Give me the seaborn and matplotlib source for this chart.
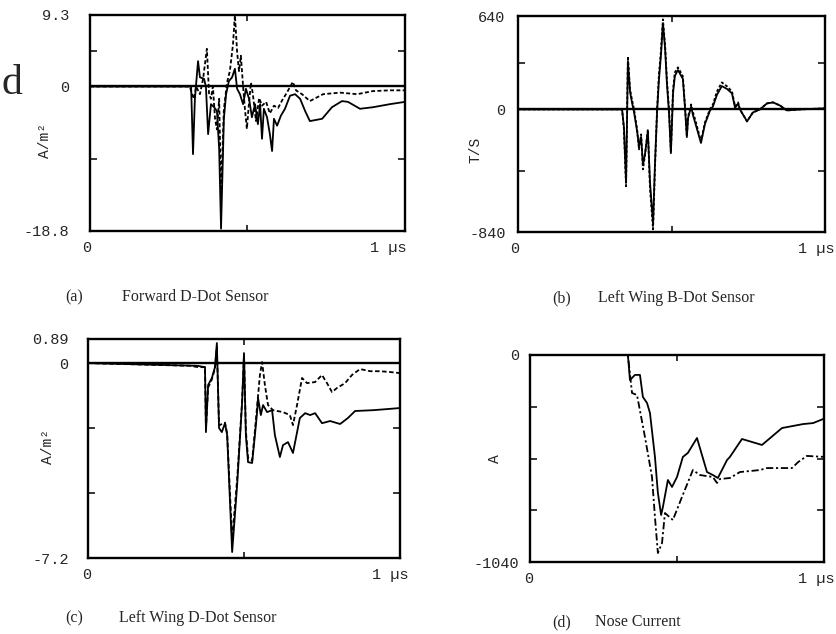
import matplotlib
matplotlib.use("Agg")
import matplotlib.pyplot as plt
import pandas as pd
import seaborn as sns

sns.set_style("white")
plt.rcParams['font.family'] = ['Liberation Mono', 'DejaVu Sans Mono']

# ---------------- data (time in microseconds) ----------------
# (a) Forward D-Dot Sensor, A/m^2
A_T_SOLID = [0, 0.321, 0.327, 0.333, 0.343, 0.349, 0.362, 0.368, 0.375, 0.384,
             0.394, 0.403, 0.410, 0.416, 0.425, 0.432, 0.441, 0.451, 0.460, 0.467,
             0.476, 0.486, 0.495, 0.505, 0.514, 0.524, 0.533, 0.540, 0.546, 0.552,
             0.562, 0.571, 0.578, 0.584, 0.594, 0.606, 0.619, 0.635, 0.651, 0.667,
             0.683, 0.698, 0.737, 0.768, 0.800, 0.819, 0.857, 0.898, 0.952, 1.0]
A_V_SOLID = [0, 0, -8.8, -1.6, 3.3, 1.2, 1.0, 0, -6.2, -2.3,
             -2.7, -3.2, -8.1, -18.5, -4.2, -1.0, 0.7, 1.2, 2.3, -0.3,
             -1.0, -2.3, -0.3, -1.6, -4.0, -2.3, -4.9, -2.3, -6.8, -2.9,
             -4.0, -6.2, -8.4, -4.2, -5.1, -3.8, -2.9, -1.2, -1.0, -1.6,
             -3.2, -4.5, -4.2, -2.7, -1.9, -2.0, -2.9, -2.7, -2.3, -2.0]
A_T_DOT = [0, 0.317, 0.324, 0.330, 0.337, 0.349, 0.359, 0.371, 0.378, 0.384,
           0.390, 0.397, 0.403, 0.410, 0.416, 0.425, 0.435, 0.444, 0.454, 0.460,
           0.467, 0.473, 0.479, 0.486, 0.492, 0.498, 0.505, 0.511, 0.517, 0.527,
           0.537, 0.546, 0.559, 0.571, 0.584, 0.597, 0.610, 0.625, 0.644, 0.654,
           0.673, 0.698, 0.740, 0.794, 0.848, 0.898, 0.952, 1.0]
A_V_DOT = [0, 0, -1.0, -1.6, 0, -1.0, 1.0, 4.9, -1.0, -1.6,
           0, -4.2, -5.6, -1.6, -14.0, -3.0, 0.5, 2.0, 5.5, 9.3,
           4.5, 2.0, 4.0, 0.0, -3.0, -5.5, -2.0, 0.5, -1.0, -4.5,
           -1.5, -2.5, -2.0, -3.5, -2.5, -2.8, -1.8, -0.8, 0.6, -0.5,
           -1.0, -1.9, -1.0, -0.8, -1.0, -0.6, -0.5, -0.5]

# (b) Left Wing B-Dot Sensor, T/S
B_T = [0, 0.339, 0.345, 0.352, 0.358, 0.365, 0.371, 0.378, 0.388, 0.394,
       0.401, 0.407, 0.414, 0.423, 0.430, 0.440, 0.446, 0.453, 0.459, 0.466,
       0.472, 0.479, 0.485, 0.492, 0.498, 0.505, 0.511, 0.521, 0.534, 0.537,
       0.544, 0.550, 0.554, 0.564, 0.570, 0.577, 0.596, 0.609, 0.625, 0.635,
       0.648, 0.664, 0.681, 0.697, 0.707, 0.717, 0.723, 0.746, 0.765, 0.788,
       0.811, 0.831, 0.853, 0.876, 0.919, 1.0]
B_V_DOT = [0, 0, -137, -527, 363, 137, 69, 0, -137, -274,
           -171, -411, -308, -137, -548, -822, -411, 0, 240, 411,
           617, 445, 206, 0, -295, 137, 254, 288, 240, 226,
           21, -185, -48, 34, -21, -69, -219, -89, 0, 34,
           123, 185, 158, 123, 21, 48, 0, -82, -21, 0,
           41, 48, 27, -7, 0, 7]
B_V_SOLID = [0, 0, -120, -500, 330, 120, 50, -20, -150, -250,
             -190, -380, -300, -150, -500, -780, -380, -20, 200, 380,
             590, 420, 180, -30, -300, 110, 230, 270, 220, 210,
             10, -190, -60, 20, -40, -90, -230, -100, -10, 20,
             100, 160, 140, 110, 10, 40, 0, -82, -21, 0,
             41, 48, 27, -7, 0, 7]

# (c) Left Wing D-Dot Sensor, A/m^2
C_T_SOLID = [0, 0.350, 0.375, 0.378, 0.385, 0.397, 0.407, 0.413, 0.420, 0.429,
             0.439, 0.446, 0.462, 0.478, 0.494, 0.500, 0.506, 0.513, 0.526, 0.535,
             0.542, 0.545, 0.554, 0.561, 0.574, 0.590, 0.599, 0.615, 0.625, 0.641,
             0.657, 0.679, 0.696, 0.712, 0.728, 0.750, 0.776, 0.808, 0.833, 0.856,
             0.913, 0.958, 1.0]
C_V_SOLID = [0, -0.1, -0.15, -2.55, -0.81, -0.55, -0.15, 0.74, -2.40, -2.55,
             -2.22, -2.66, -6.98, -4.51, -1.44, 0.37, -2.66, -3.66, -3.69, -2.66,
             -1.81, -1.29, -1.92, -1.55, -1.81, -1.74, -2.66, -3.47, -3.03, -2.92,
             -3.32, -2.03, -1.85, -1.92, -1.85, -2.22, -2.14, -2.25, -2.03, -1.77,
             -1.74, -1.70, -1.66]
C_T_DOT = [0, 0.327, 0.353, 0.375, 0.378, 0.385, 0.397, 0.407, 0.413, 0.420,
           0.439, 0.446, 0.462, 0.478, 0.494, 0.500, 0.506, 0.513, 0.526, 0.535,
           0.542, 0.551, 0.558, 0.567, 0.577, 0.593, 0.625, 0.647, 0.657, 0.670,
           0.686, 0.702, 0.728, 0.750, 0.766, 0.782, 0.798, 0.824, 0.846, 0.872,
           0.904, 0.936, 0.968, 1.0]
C_V_DOT = [0, -0.1, -0.15, -0.15, -2.4, -0.9, -0.6, -0.2, 0.6, -2.3,
           -2.2, -2.6, -6.5, -4.3, -1.4, 0.3, -2.5, -3.5, -3.6, -2.5,
           -1.6, -0.44, 0.04, -0.81, -1.55, -1.74, -1.81, -1.92, -2.29, -1.55,
           -0.55, -0.74, -0.70, -0.44, -0.74, -1.07, -0.92, -0.74, -0.44, -0.22,
           -0.30, -0.30, -0.33, -0.37]

# (d) Nose Current, A
D_T_SOLID = [0, 0.333, 0.340, 0.357, 0.374, 0.384, 0.398, 0.408, 0.425, 0.435,
             0.446, 0.452, 0.469, 0.483, 0.500, 0.520, 0.537, 0.568, 0.602, 0.622,
             0.639, 0.670, 0.680, 0.721, 0.789, 0.857, 0.929, 0.963, 1.0]
D_V_SOLID = [0, 0, -126, -100, -100, -211, -241, -291, -512, -693,
             -804, -764, -628, -663, -613, -512, -492, -417, -588, -603,
             -618, -528, -512, -422, -452, -367, -347, -342, -320]
D_T_DOT = [0, 0.333, 0.347, 0.364, 0.391, 0.415, 0.425, 0.435, 0.449, 0.459,
           0.486, 0.517, 0.554, 0.578, 0.622, 0.636, 0.646, 0.680, 0.714, 0.782,
           0.806, 0.891, 0.912, 0.942, 1.0]
D_V_DOT = [0, 0, -191, -201, -412, -613, -814, -995, -945, -794,
           -829, -713, -578, -603, -613, -643, -623, -618, -588, -578,
           -568, -568, -538, -507, -512]

Y_TOP = [9.3, 640, 0.89, 0]
Y_BOTTOM = [-18.8, -840, -7.2, -1040]
Y_TOP_LABELS = ["9.3", "640", "0.89", "0"]
Y_BOTTOM_LABELS = ["-18.8", "-840", "-7.2", "-1040"]
Y_MINOR = [[4.65, -9.4], [320, -420], [-2.4, -4.8], [-260, -520, -780]]
Y_UNITS = ["A/m\u00b2", "T/S", "A/m\u00b2", "A"]
LETTERS = ["(a)", "(b)", "(c)", "(d)"]
CAPTIONS = ["Forward D-Dot Sensor", "Left Wing B-Dot Sensor",
            "Left Wing D-Dot Sensor", "Nose Current"]

series = [
    (A_T_SOLID, A_V_SOLID, A_T_DOT, A_V_DOT),
    (B_T, B_V_SOLID, B_T, B_V_DOT),
    (C_T_SOLID, C_V_SOLID, C_T_DOT, C_V_DOT),
    (D_T_SOLID, D_V_SOLID, D_T_DOT, D_V_DOT),
]

# ---------------- layout (figure fractions) ----------------
W, H = 837, 634
boxes_px = [(90, 15, 405, 231), (518, 16, 825, 232), (88, 339, 400, 558), (530, 355, 824, 562)]
ylabel_pos = [(-0.12, 0.42), (-0.117, 0.38), (-0.106, 0.51), (-0.095, 0.50)]
ytick_pad = [15, 9, 14, 8]
unit_right = [1.006, 1.03, 1.026, 1.037]
zero_x = [-0.01, -0.01, -0.005, -0.006]
caption_px = [(74, 122, 297), (562, 598, 298), (74, 119, 618), (562, 595, 622)]
dashes = [(0, (2.2, 1.3)), (0, (1.6, 1.1)), (0, (2.5, 1.4)), (0, (4, 1.5, 1.2, 1.5))]

fig = plt.figure(figsize=(W / 100, H / 100), dpi=100)
fig.patch.set_facecolor("white")

for i in range(4):
    l, t, r, b = boxes_px[i]
    ax = fig.add_axes([l / W, 1 - b / H, (r - l) / W, (b - t) / H])
    ts, vs, td, vd = series[i]
    df_s = pd.DataFrame({"t": ts, "v": vs})
    df_d = pd.DataFrame({"t": td, "v": vd})
    sns.lineplot(data=df_d, x="t", y="v", ax=ax, color="black", lw=1.3,
                 linestyle=dashes[i], estimator=None, sort=False, zorder=3)
    sns.lineplot(data=df_s, x="t", y="v", ax=ax, color="black", lw=1.3,
                 estimator=None, sort=False, zorder=4)
    if Y_TOP[i] > 0:
        ax.axhline(0, color="black", lw=1.7, zorder=5)
    ax.set_xlim(0, 1)
    ax.set_ylim(Y_BOTTOM[i], Y_TOP[i])
    for s in ax.spines.values():
        s.set_visible(True)
        s.set_color("black")
        s.set_linewidth(1.7)

    # y labels (top, zero, bottom) and inner minor ticks
    if Y_TOP[i] > 0:
        ax.set_yticks([Y_TOP[i], 0, Y_BOTTOM[i]])
        ax.set_yticklabels([Y_TOP_LABELS[i], "0", Y_BOTTOM_LABELS[i]])
    else:
        ax.set_yticks([Y_TOP[i], Y_BOTTOM[i]])
        ax.set_yticklabels([Y_TOP_LABELS[i], Y_BOTTOM_LABELS[i]])
    ax.set_yticks(Y_MINOR[i], minor=True)
    ax.set_xticks([])
    ax.set_xticks([0.5], minor=True)
    ax.tick_params(axis="y", which="major", length=0, pad=ytick_pad[i], labelsize=11)
    ax.tick_params(axis="y", which="minor", direction="in", length=5, width=1.3,
                   left=True, right=True)
    ax.tick_params(axis="x", which="minor", direction="in", length=4, width=1.3,
                   bottom=True, top=True)
    ax.set_xlabel("")
    ax.set_ylabel(Y_UNITS[i], fontsize=10.5)
    ax.yaxis.set_label_coords(*ylabel_pos[i])

    ax.annotate("0", xy=(zero_x[i], 0), xycoords="axes fraction", xytext=(0, -17),
                textcoords="offset pixels", ha="center", va="center", fontsize=11)
    ax.annotate("1 \u00b5s", xy=(unit_right[i], 0), xycoords="axes fraction",
                xytext=(0, -17), textcoords="offset pixels", ha="right", va="center",
                fontsize=11)

    lx, cx, cy = caption_px[i]
    fig.text(lx / W, 1 - cy / H, LETTERS[i], ha="center", va="center",
             family="Liberation Serif", fontsize=11.5)
    fig.text(cx / W, 1 - cy / H, CAPTIONS[i], ha="left", va="center",
             family="Liberation Serif", fontsize=11.5)

# fragment of a letter from the neighbouring page
fig.text(0.002, 1 - 84 / H, "d", ha="left", va="center",
         family="Liberation Serif", fontsize=30)

fig.savefig("out.png", dpi=100, facecolor="white")
